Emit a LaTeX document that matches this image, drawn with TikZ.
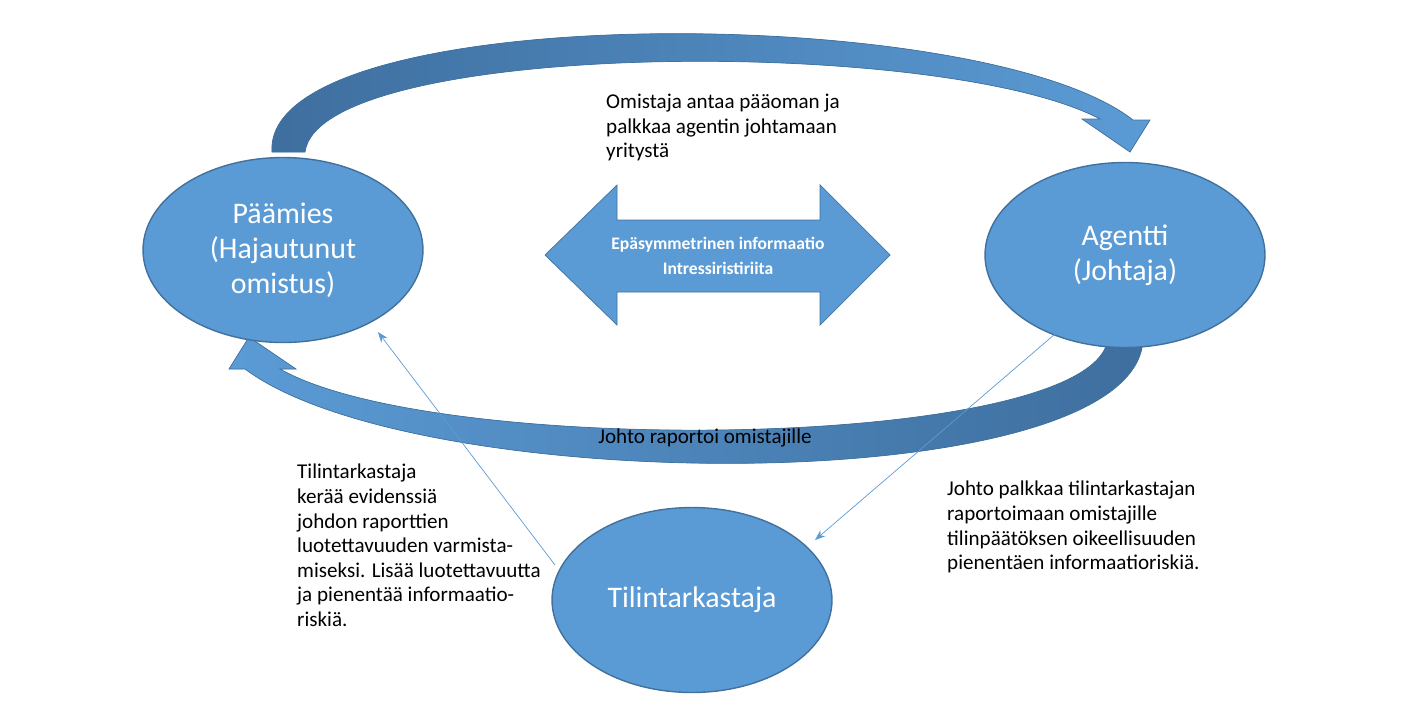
\documentclass[tikz,border=0pt]{standalone}
\usepackage{fontspec}
\setmainfont{Carlito}
\usetikzlibrary{arrows.meta,shapes.geometric}
\begin{document}
\begin{tikzpicture}[x=0.02cm,y=-0.02cm]
  \definecolor{myblue}{HTML}{5B9BD5}
  \definecolor{myedge}{HTML}{41719C}
  \definecolor{mydark}{HTML}{3E6E9E}
  \tikzset{party/.style={ellipse, fill=myblue, draw=myedge, thick, text=white,
      minimum width=5.6cm, minimum height=3.7cm, align=center, font=\fontsize{17}{20}\selectfont},
    note/.style={align=left, anchor=north west, font=\fontsize{12}{14}\selectfont},
    bigarrow/.style={draw=myedge, fill=myblue},
    thin/.style={draw=myblue, -{Stealth[length=6pt]}}}
  \useasboundingbox (0,0) rectangle (1413,714);

  % curved arrows
  \path[bigarrow, left color=mydark, right color=myblue]
    (272,152) .. controls (262,0) and (980,0) .. (1133,120)
    -- (1150,120) -- (1130,152) -- (1082,119) -- (1100,119)
    .. controls (940,35) and (320,40) .. (305,152) -- cycle;
  \path[bigarrow, left color=myblue, right color=mydark]
    (1143,335) .. controls (1150,500) and (420,500) .. (245,369)
    -- (229,369) -- (249,337) -- (296,369) -- (280,369)
    .. controls (440,460) and (1110,450) .. (1108,335) -- cycle;

  % nodes
  \node[party] (paamies) at (283,250) {Päämies\\(Hajautunut\\omistus)};
  \node[party] (agentti) at (1125,255) {Agentti\\(Johtaja)};
  \node[party] (tilin) at (692,600) {Tilintarkastaja};

  % double arrow
  \path[bigarrow] (545,255) -- (617,185) -- (617,220) -- (820,220) -- (820,185)
    -- (890,255) -- (820,325) -- (820,292) -- (617,292) -- (617,325) -- cycle;
  \node[text=white, align=center, font=\fontsize{10}{14}\selectfont\bfseries] (info) at (718,256)
    {Epäsymmetrinen informaatio\\Intressiristiriita};

  % thin arrows
  \coordinate (tstart) at (555,565);
  \coordinate (pend) at (378,332);
  \coordinate (astart) at (1062,328);
  \coordinate (tend) at (815,540);
  \draw[thin] (tstart) -- (pend);
  \draw[thin] (astart) -- (tend);

  % notes
  \node[note] (omistaja) at (600,88) {Omistaja antaa pääoman ja\\palkkaa agentin johtamaan\\yritystä};
  \node[font=\fontsize{12}{14}\selectfont] (raportoi) at (705,438) {Johto raportoi omistajille};
  \node[note] (keraa) at (291,458) {Tilintarkastaja\\kerää evidenssiä\\johdon raporttien\\luotettavuuden varmista-\\miseksi. Lisää luotettavuutta\\ja pienentää informaatio-\\riskiä.};
  \node[note] (palkkaa) at (941,475) {Johto palkkaa tilintarkastajan\\raportoimaan omistajille\\tilinpäätöksen oikeellisuuden\\pienentäen informaatioriskiä.};
\end{tikzpicture}
\end{document}
